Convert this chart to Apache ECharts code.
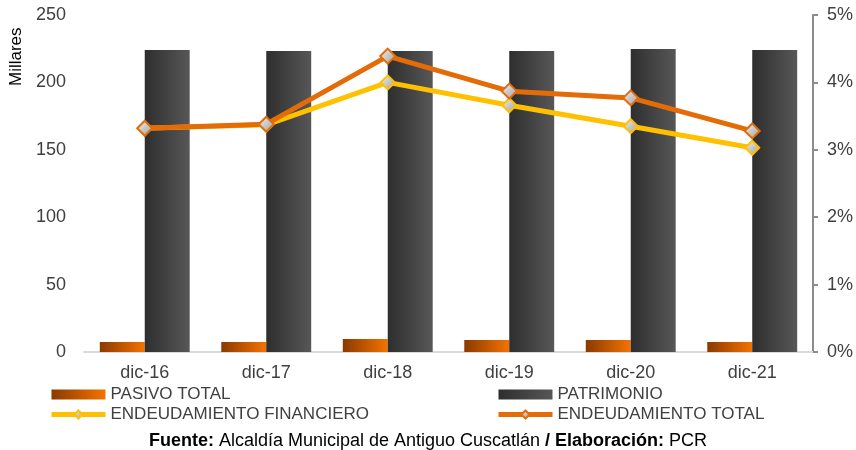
<!DOCTYPE html>
<html>
<head>
	<meta charset="utf-8">
	<title>Pasivo y patrimonio</title>
	<script src="https://cdn.jsdelivr.net/npm/echarts@6/dist/echarts.min.js"></script>
	<style>
		html, body { margin: 0; padding: 0; background: #fff; }
		#main { width: 856px; height: 450px; }
	</style>
</head>
<body>
<div id="main"></div>
<script>
	// datos (millares / porcentaje)
	var periodos = ['dic-16', 'dic-17', 'dic-18', 'dic-19', 'dic-20', 'dic-21'];
	var pasivoTotal = [7.4, 7.4, 9.6, 8.9, 8.9, 7.4];
	var patrimonio = [224, 223.3, 223.3, 223.3, 224.8, 224];
	var endeudFinanciero = [0.0332, 0.0337, 0.0400, 0.0366, 0.0335, 0.0303];
	var endeudTotal = [0.0332, 0.0338, 0.0439, 0.0387, 0.0377, 0.0328];

	var fuente = 'Liberation Sans, Arial, sans-serif';

	var myChart = echarts.init(document.getElementById('main'));

	var diamante = function (color) {
		return {
			color: new echarts.graphic.LinearGradient(0, 0, 1, 1, [
				{ offset: 0, color: '#f4f4f4' },
				{ offset: 1, color: '#9c9c9c' }
			]),
			borderColor: color,
			borderWidth: 2
		};
	};

	var leyenda = {
		orient: 'vertical',
		top: 381,
		itemWidth: 54,
		itemHeight: 10,
		itemGap: 3,
		lineStyle: { width: 5 },
		textStyle: { fontSize: 17, color: '#404040' }
	};

	var option = {
		animation: false,
		textStyle: { fontFamily: fuente },
		grid: { left: 84, right: 43, top: 15, bottom: 98 },
		title: {
			left: 'center',
			top: 427,
			text: '{b|Fuente:} Alcaldía Municipal de Antiguo Cuscatlán {b|/ Elaboración:} PCR',
			textStyle: {
				fontFamily: fuente,
				fontSize: 18,
				fontWeight: 'normal',
				color: '#000',
				rich: {
					b: { fontFamily: fuente, fontSize: 18, fontWeight: 'bold', color: '#000' }
				}
			}
		},
		graphic: [{
			type: 'text',
			x: 8,
			y: 86,
			rotation: Math.PI / 2,
			style: { text: 'Millares', font: '17px ' + fuente, fill: '#000' }
		}],
		legend: [
			Object.assign({}, leyenda, {
				left: 44,
				data: [{ name: 'PASIVO TOTAL', icon: 'rect' }, 'ENDEUDAMIENTO FINANCIERO']
			}),
			Object.assign({}, leyenda, {
				left: 491,
				data: [{ name: 'PATRIMONIO', icon: 'rect' }, 'ENDEUDAMIENTO TOTAL']
			})
		],
		xAxis: {
			type: 'category',
			data: periodos,
			axisLine: { lineStyle: { color: '#d9d9d9', width: 2 } },
			axisTick: { show: false },
			axisLabel: { fontSize: 18, color: '#404040', margin: 12 }
		},
		yAxis: [{
			type: 'value',
			min: 0,
			max: 250,
			interval: 50,
			axisLine: { show: false },
			axisTick: { show: false },
			splitLine: { show: false },
			axisLabel: { fontSize: 18, color: '#404040', margin: 18 }
		}, {
			type: 'value',
			min: 0,
			max: 0.05,
			interval: 0.01,
			position: 'right',
			axisLine: { show: true, lineStyle: { color: '#8c8c8c', width: 2 } },
			axisTick: { show: true, length: 5, lineStyle: { color: '#8c8c8c', width: 2 } },
			splitLine: { show: false },
			axisLabel: {
				fontSize: 18,
				color: '#404040',
				margin: 14,
				formatter: function (v) { return Math.round(v * 100) + '%'; }
			}
		}],
		series: [{
			name: 'PASIVO TOTAL',
			type: 'bar',
			barWidth: '37%',
			barGap: '0%',
			itemStyle: {
				color: new echarts.graphic.LinearGradient(0, 0, 1, 0, [
					{ offset: 0, color: '#8a3a00' },
					{ offset: 1, color: '#f47300' }
				])
			},
			data: pasivoTotal
		}, {
			name: 'PATRIMONIO',
			type: 'bar',
			barWidth: '37%',
			barGap: '0%',
			itemStyle: {
				color: new echarts.graphic.LinearGradient(0, 0, 1, 0, [
					{ offset: 0, color: '#2e2e2e' },
					{ offset: 1, color: '#575757' }
				])
			},
			data: patrimonio
		}, {
			name: 'ENDEUDAMIENTO FINANCIERO',
			type: 'line',
			yAxisIndex: 1,
			symbol: 'diamond',
			symbolSize: 14,
			lineStyle: { color: '#ffc000', width: 5 },
			itemStyle: diamante('#ffc000'),
			data: endeudFinanciero
		}, {
			name: 'ENDEUDAMIENTO TOTAL',
			type: 'line',
			yAxisIndex: 1,
			symbol: 'diamond',
			symbolSize: 15,
			lineStyle: { color: '#e36c09', width: 5 },
			itemStyle: diamante('#e36c09'),
			data: endeudTotal
		}]
	};

	myChart.setOption(option);
</script>
</body>
</html>
